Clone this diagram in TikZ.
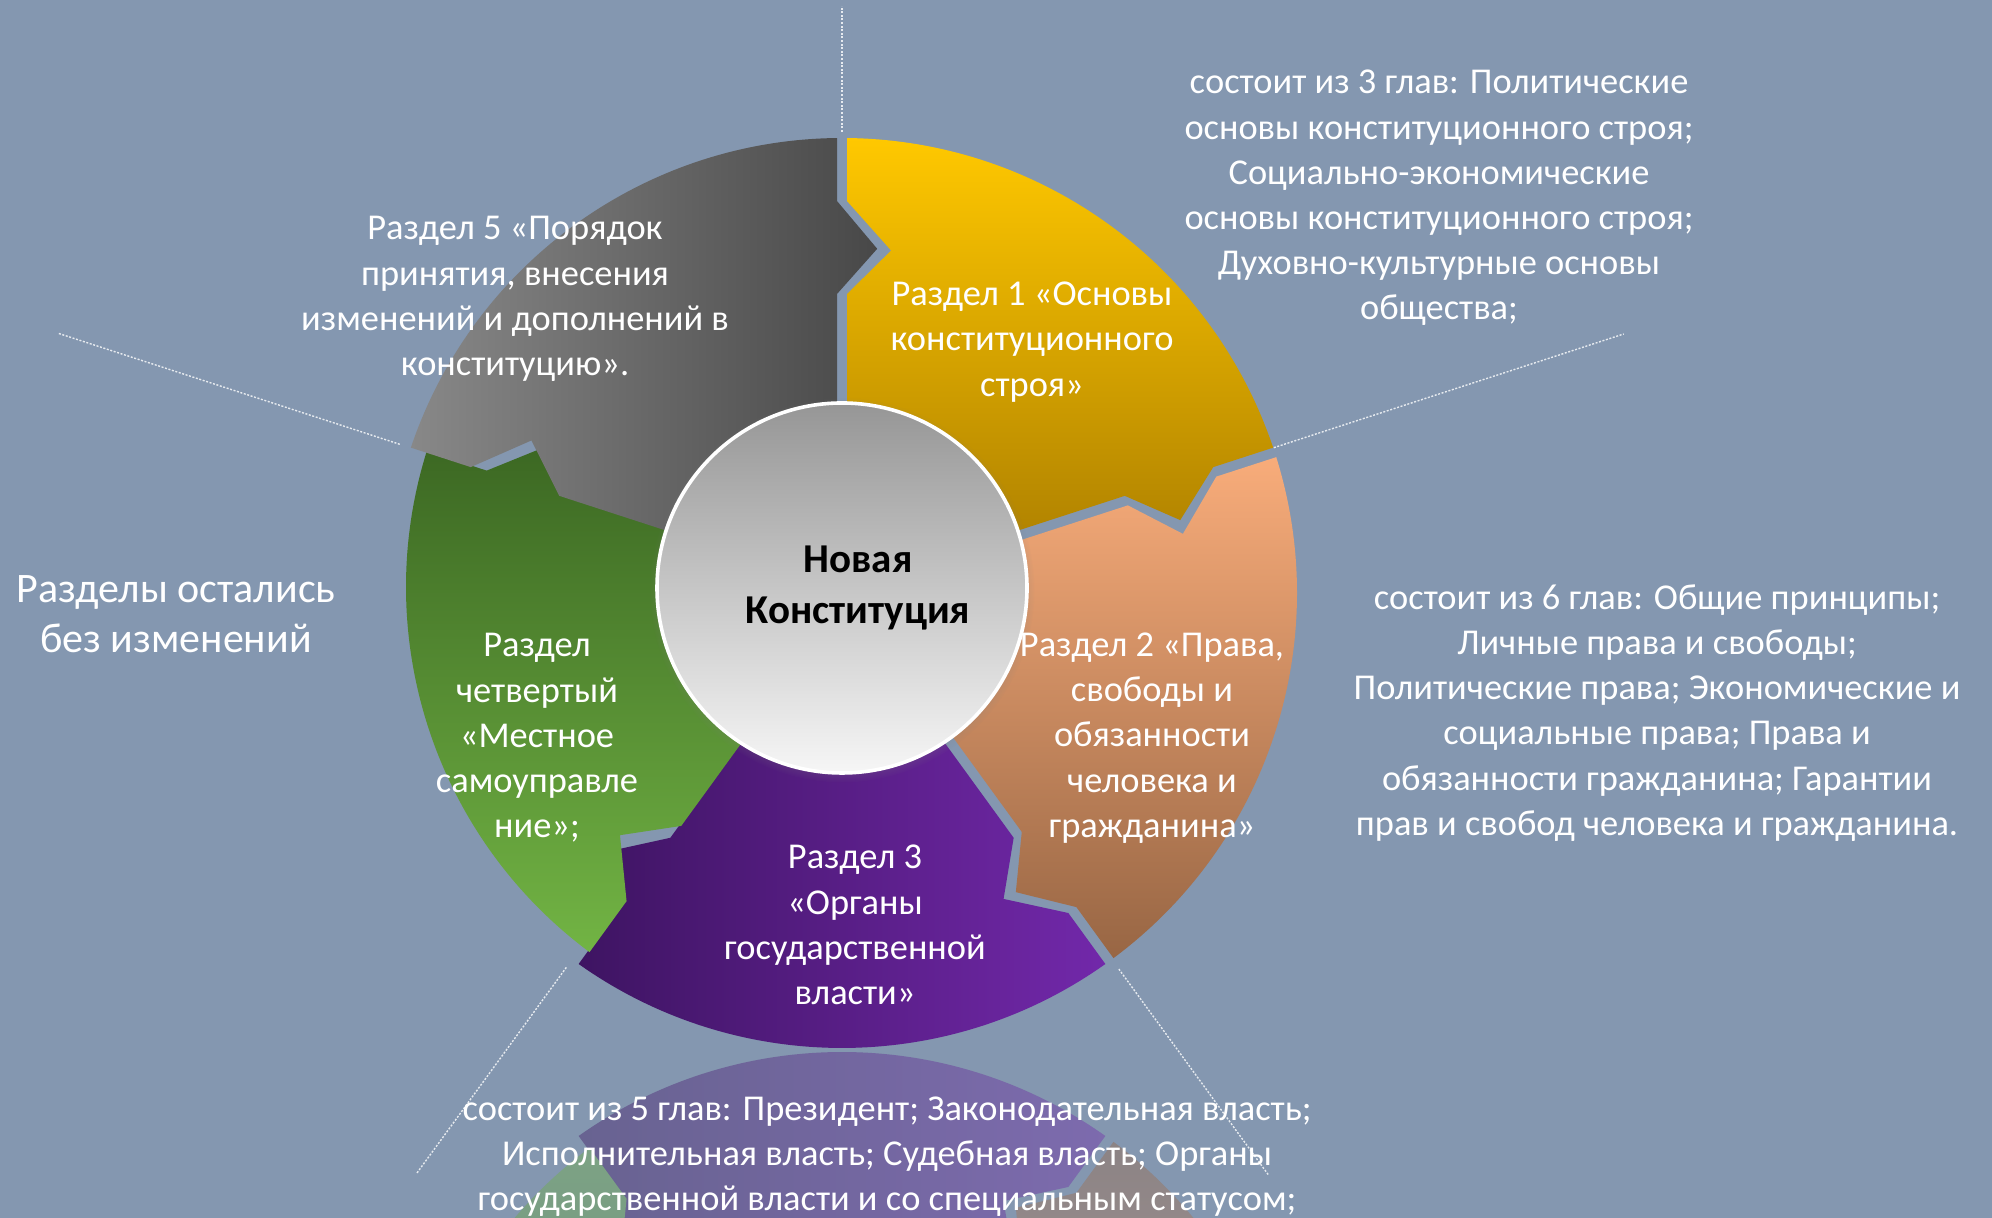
\documentclass[tikz,border=0pt]{standalone}
\usepackage{fontspec}
\setmainfont{Carlito}
\usetikzlibrary{shadows}
\definecolor{bgblue}{RGB}{132,151,176}
\definecolor{yellowtop}{RGB}{255,200,0}
\definecolor{yellowbot}{RGB}{178,132,0}
\definecolor{orangetop}{RGB}{248,172,122}
\definecolor{orangebot}{RGB}{152,102,68}
\definecolor{purpleleft}{RGB}{62,20,98}
\definecolor{purpleright}{RGB}{114,40,170}
\definecolor{greentop}{RGB}{60,104,35}
\definecolor{greenbot}{RGB}{114,180,68}
\definecolor{grayleft}{RGB}{136,136,136}
\definecolor{grayright}{RGB}{72,72,72}
\definecolor{coretop}{RGB}{150,150,150}
\definecolor{corebot}{RGB}{246,246,246}
\newcommand{\segmix}{100}
\newcommand{\segflip}{0}
\newcommand{\drawring}{%
  \foreach \a/\segstyle/\dx/\dy in {90/segyellow/0/0, 18/segorange/0/0, -54/segpurple/0/0, -126/seggreen/19/6, 162/seggray/0/0}
    \path[\segstyle, shift={(\dx,\dy)}]
      (\a-0.63:455) arc[start angle=\a-0.63, end angle=\a-71.37, radius=455]
      -- (\a-71.27:392) -- (\a-77.84:346) -- (\a-71.04:299) -- (\a-70.41:180)
      arc[start angle=\a-70.41, end angle=\a-1.59, radius=180]
      -- (\a-0.96:299) -- (\a-8.16:346) -- (\a-0.73:392) -- cycle;
}
\begin{document}
\begin{tikzpicture}[
	x=0.5pt, y=0.5pt,
	every node/.style={inner sep=0pt, align=center, text=white, font=\fontsize{18.2}{22.6}\selectfont},
	segyellow/.style={top color=yellowtop!\segmix!bgblue, bottom color=yellowbot!\segmix!bgblue, shading angle=\segflip},
	segorange/.style={top color=orangetop!\segmix!bgblue, bottom color=orangebot!\segmix!bgblue, shading angle=\segflip},
	segpurple/.style={left color=purpleleft!\segmix!bgblue, right color=purpleright!\segmix!bgblue},
	seggreen/.style={top color=greentop!\segmix!bgblue, bottom color=greenbot!\segmix!bgblue, shading angle=\segflip},
	seggray/.style={left color=grayleft!\segmix!bgblue, right color=grayright!\segmix!bgblue},
	guide/.style={draw=white!80!bgblue, line width=0.7pt, dash pattern=on 1pt off 0.8pt},
	core/.style={circle, minimum size=185pt, draw=white, line width=1.8pt, top color=coretop, bottom color=corebot,
		circular drop shadow={shadow xshift=0pt, shadow yshift=-1pt, shadow scale=1.04, opacity=0.55}},
	coretext/.style={text=black, font=\bfseries\fontsize{20.5}{25.5}\selectfont},
	bigtext/.style={font=\fontsize{21}{24.8}\selectfont},
]
\useasboundingbox (0,0) rectangle (1992,1218);
\clip (0,0) rectangle (1992,1218);
\fill[bgblue] (0,0) rectangle (1992,1218);

\begin{scope}[shift={(842,-289)}, yscale=-1]
	\renewcommand{\segmix}{40}
	\renewcommand{\segflip}{180}
	\drawring
\end{scope}

\begin{scope}[shift={(842,625)}]
	\drawring
\end{scope}

\begin{scope}[shift={(842,630)}]
	\foreach \a/\ri/\ro [count=\i] in {90/456/582, 18/454/822, 162/465/824, -126/469/724, -54/471/726} {
		\coordinate (gin\i) at (\a:\ri);
		\coordinate (gout\i) at (\a:\ro);
		\draw[guide] (gin\i) -- (gout\i);
	}
	\node[core] (core) at (0,0) {};
\end{scope}

\node[coretext] (coretitle) at (858,630) {Новая\\Конституция};
\node (sec1) at (1032,876) {Раздел 1 «Основы\\конституционного\\строя»};
\node (sec2) at (1152,480) {Раздел 2 «Права,\\свободы и\\обязанности\\человека и\\гражданина»};
\node (sec3) at (855,293) {Раздел 3\\«Органы\\государственной\\власти»};
\node (sec4) at (537,480) {Раздел\\четвертый\\«Местное\\самоуправле\\ние»;};
\node (sec5) at (515,919) {Раздел 5 «Порядок\\принятия, внесения\\изменений и дополнений в\\конституцию».};
\node[bigtext] (unchanged) at (176,604) {Разделы остались\\без изменений};
\node (note1) at (1439,1020) {состоит из 3 глав: Политические\\основы конституционного строя;\\Социально-экономические\\основы конституционного строя;\\Духовно-культурные основы\\общества;};
\node (note2) at (1657,505) {состоит из 6 глав: Общие принципы;\\Личные права и свободы;\\Политические права; Экономические и\\социальные права; Права и\\обязанности гражданина; Гарантии\\прав и свобод человека и гражданина.};
\node (note3) at (887,61) {состоит из 5 глав: Президент; Законодательная власть;\\Исполнительная власть; Судебная власть; Органы\\государственной власти и со специальным статусом;};
\end{tikzpicture}
\end{document}
